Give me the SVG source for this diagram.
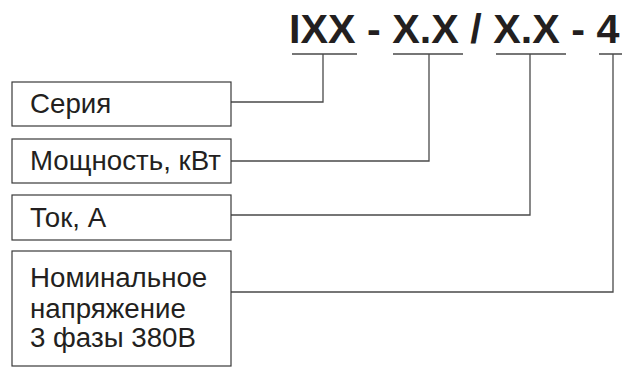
<svg xmlns="http://www.w3.org/2000/svg" width="622" height="368" viewBox="0 0 622 368">
<style>
.box{fill:#fff;stroke:#3a3a3a;stroke-width:1.2}
.t{font-family:"Liberation Sans",Arial,sans-serif;font-size:27.7px;fill:#231f20}
.title{font-family:"Liberation Sans",Arial,sans-serif;font-size:41.3px;font-weight:bold;fill:#231f20}
.c{fill:none;stroke:#4a4a4a;stroke-width:1.3}
</style>
<rect width="622" height="368" fill="#fff"/>
<text id="title" class="title" x="289" y="43">IXX - X.X / X.X - 4</text>
<g id="connectors">
<path class="c" d="M292,54H357M393,54H463M496,54H566M599,54H622"/>
<path class="c" d="M323,54V102H231"/>
<path class="c" d="M429,54V161H231"/>
<path class="c" d="M530,54V215H231"/>
<path class="c" d="M613,54V292H231"/>
</g>
<g id="n1"><rect class="box" x="12" y="82" width="219" height="44"/><text class="t" x="30" y="113">Серия</text></g>
<g id="n2"><rect class="box" x="12" y="139" width="219" height="44"/><text class="t" x="30" y="170">Мощность, кВт</text></g>
<g id="n3"><rect class="box" x="12" y="195" width="219" height="45"/><text class="t" x="30" y="227">Ток, А</text></g>
<g id="n4"><rect class="box" x="12" y="251" width="219" height="115"/><text class="t" x="30" y="287">Номинальное</text><text class="t" x="30" y="318">напряжение</text><text class="t" x="30" y="347">3 фазы 380В</text></g>
</svg>
